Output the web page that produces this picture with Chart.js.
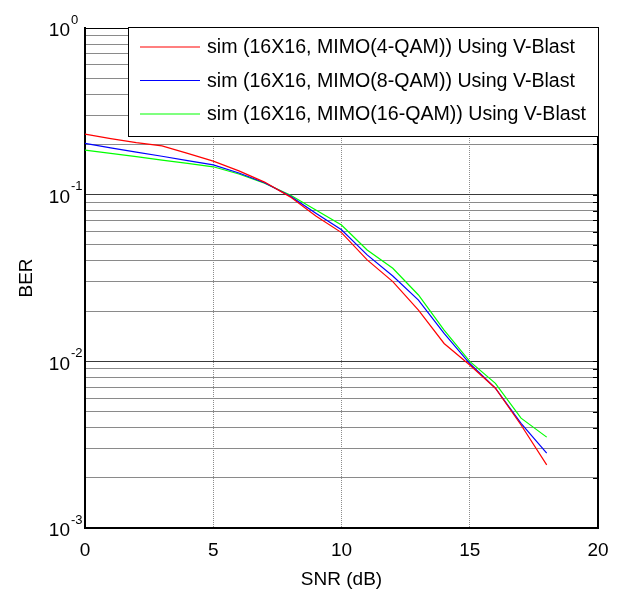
<!DOCTYPE html>
<html>
<head>
<meta charset="utf-8">
<script src="https://cdn.jsdelivr.net/npm/chart.js@4/dist/chart.umd.min.js"></script>
<style>
  html, body { margin: 0; padding: 0; background: #fff; }
  #wrap { width: 621px; height: 595px; }
</style>
</head>
<body>
<div id="wrap"><canvas id="berChart" width="621" height="595"></canvas></div>
<script>
// SNR points (dB)
const snr = [0, 1, 2, 3, 4, 5, 6, 7, 8, 9, 10, 11, 12, 13, 14, 15, 16, 17, 18];

// BER
const ber4qam  = [0.231, 0.217, 0.205, 0.196, 0.177, 0.159, 0.139, 0.119, 0.097, 0.0745, 0.0592, 0.0406, 0.0301, 0.0203, 0.0128, 0.0095, 0.0069, 0.00415, 0.00239];
const ber8qam  = [0.203, 0.191, 0.180, 0.170, 0.160, 0.151, 0.135, 0.118, 0.098, 0.0773, 0.0616, 0.0435, 0.0325, 0.0233, 0.0147, 0.0097, 0.0069, 0.00425, 0.00281];
const ber16qam = [0.185, 0.177, 0.169, 0.161, 0.154, 0.147, 0.133, 0.117, 0.0995, 0.081, 0.0658, 0.0466, 0.0362, 0.0250, 0.0154, 0.0100, 0.00738, 0.00456, 0.00351];

const seriesLabels = [
    'sim (16X16, MIMO(4-QAM)) Using V-Blast',
    'sim (16X16, MIMO(8-QAM)) Using V-Blast',
    'sim (16X16, MIMO(16-QAM)) Using V-Blast'
];
const seriesColors = ['#ff0000', '#0000ff', '#00ff00'];

const xTicks = [0, 5, 10, 15, 20];
const yDecades = [0, -1, -2, -3]; // exponents for labels

const FONT = '"Liberation Sans", Arial, sans-serif';

function toPoints(ys) {
    return snr.map((x, i) => ({ x: x, y: ys[i] }));
}

// every 1..9 x 10^k between 1e-3 and 1
function logGridValues() {
    const vals = [];
    for (let e = -3; e < 0; e++) {
        for (let m = 1; m < 10; m++) vals.push(m * Math.pow(10, e));
    }
    vals.push(1);
    return vals;
}
function isDecade(v) {
    const l = Math.log10(v);
    return Math.abs(l - Math.round(l)) < 1e-6;
}

// frame, y labels with superscripts, legend box
const matlabLook = {
    id: 'matlabLook',
    afterDraw(chart) {
        const c = chart.ctx;
        const a = chart.chartArea;
        const ys = chart.scales.y;
        c.save();

        // top & right frame
        c.strokeStyle = '#000';
        c.lineWidth = 1;
        c.beginPath();
        c.moveTo(a.left, a.top + 0.5);
        c.lineTo(a.right + 0.5, a.top + 0.5);
        c.stroke();
        c.lineWidth = 2;
        c.beginPath();
        c.moveTo(a.right, a.top);
        c.lineTo(a.right, a.bottom);
        c.stroke();

        // small inward ticks on the right edge
        c.lineWidth = 1;
        ys.ticks.forEach(t => {
            const py = Math.round(ys.getPixelForValue(t.value)) + 0.5;
            c.beginPath();
            c.moveTo(a.right - 5, py);
            c.lineTo(a.right, py);
            c.stroke();
        });

        // y tick labels 10^k
        c.fillStyle = '#000';
        c.textBaseline = 'middle';
        yDecades.forEach(e => {
            const py = ys.getPixelForValue(Math.pow(10, e));
            c.font = '19px ' + FONT;
            c.textAlign = 'right';
            c.fillText('10', 70, py + 3);
            c.font = '13px ' + FONT;
            c.textAlign = 'left';
            c.fillText(String(e), 71, py - 8);
        });

        // legend
        const bx = 128, by = 27, bw = 470, bh = 109;
        c.fillStyle = '#fff';
        c.fillRect(bx, by, bw, bh);
        c.strokeStyle = '#000';
        c.lineWidth = 1;
        c.strokeRect(bx + 0.5, by + 0.5, bw, bh);
        c.font = '19.6px ' + FONT;
        c.textAlign = 'left';
        c.textBaseline = 'middle';
        chart.data.datasets.forEach((ds, i) => {
            const ly = 47 + i * 33.5;
            c.strokeStyle = ds.borderColor;
            c.lineWidth = 1.2;
            c.beginPath();
            c.moveTo(140, ly);
            c.lineTo(200, ly);
            c.stroke();
            c.fillStyle = '#000';
            c.fillText(ds.label, 207, ly + 1);
        });
        c.restore();
    }
};

new Chart(document.getElementById('berChart'), {
    type: 'line',
    data: {
        datasets: [
            { label: seriesLabels[0], data: toPoints(ber4qam),  borderColor: seriesColors[0] },
            { label: seriesLabels[1], data: toPoints(ber8qam),  borderColor: seriesColors[1] },
            { label: seriesLabels[2], data: toPoints(ber16qam), borderColor: seriesColors[2] }
        ].map(d => Object.assign(d, { borderWidth: 1.2, pointRadius: 0, tension: 0, fill: false }))
    },
    options: {
        responsive: false,
        animation: false,
        layout: { padding: { top: 28, right: 23, left: 0, bottom: 0 } },
        plugins: {
            legend: { display: false },
            tooltip: { enabled: false }
        },
        scales: {
            x: {
                type: 'linear',
                min: 0,
                max: 20,
                afterBuildTicks(scale) { scale.ticks = xTicks.map(v => ({ value: v })); },
                afterFit(scale) { scale.height = 67; },
                border: { color: '#000', width: 2, dash: [1, 1] },
                grid: {
                    color: '#8c8c8c',
                    lineWidth: 1,
                    drawTicks: false
                },
                ticks: {
                    color: '#000',
                    font: { family: FONT, size: 19 },
                    padding: 11,
                    maxRotation: 0
                },
                title: {
                    display: true,
                    text: 'SNR (dB)',
                    color: '#000',
                    font: { family: FONT, size: 19 },
                    padding: { top: 0, bottom: 4 }
                }
            },
            y: {
                type: 'logarithmic',
                min: 0.001,
                max: 1,
                afterBuildTicks(scale) { scale.ticks = logGridValues().map(v => ({ value: v })); },
                afterFit(scale) { scale.width = 85; },
                border: { color: '#000', width: 2 },
                grid: {
                    color: ctx => (ctx.tick && isDecade(ctx.tick.value)) ? '#3a3a3a' : '#8a8a8a',
                    lineWidth: 1,
                    drawTicks: false
                },
                ticks: {
                    callback: () => '',
                    autoSkip: false
                },
                title: {
                    display: true,
                    text: 'BER',
                    color: '#000',
                    font: { family: FONT, size: 19 },
                    padding: { top: 15, bottom: 0 }
                }
            }
        }
    },
    plugins: [matlabLook]
});
</script>
</body>
</html>
